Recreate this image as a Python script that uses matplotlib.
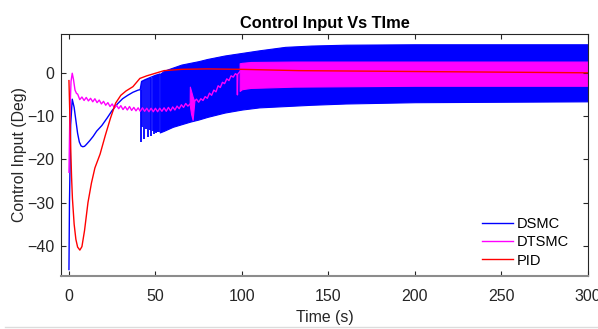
import matplotlib
matplotlib.use('Agg')
import matplotlib.pyplot as plt
from matplotlib.lines import Line2D

plt.rcParams['font.family'] = ['Liberation Sans', 'DejaVu Sans']

# PID control input
t_pid = [0, 0.4, 1, 1.5, 2, 3, 4, 5, 6.3, 7.5, 9, 11, 13, 15, 18, 21, 24, 27, 30,
         33, 37, 41, 45, 50, 55, 65, 80, 100, 133, 200, 250, 300]
u_pid = [-1.8, -8, -17, -24, -29, -35, -38.5, -40.3, -41, -40.2, -36.5, -30, -25.5,
         -22, -18.8, -14.5, -10.5, -7, -5.2, -4.2, -3.2, -1.3, -0.7, -0.1, 0.5, 0.8,
         0.9, 0.8, 0.5, 0.3, 0.15, 0.0]

# DSMC before the chattering band
t_dsmc = [0, 0.3, 1, 1.9, 3, 4, 5, 6, 7, 8, 9, 10, 12, 14, 16, 19, 22, 25, 28, 31,
          34, 37, 40, 41.2, 42, 44, 47, 50, 52.5]
u_dsmc = [-45.5, -30, -12, -6.1, -8, -11, -14, -16, -16.9, -17.1, -17, -16.6, -15.7,
          -14.7, -13.5, -12.2, -10.5, -8.7, -7.2, -6, -5.2, -4.5, -4, -3.9, -2.0,
          -1.6, -1.1, -0.6, -0.3]
# DSMC first chattering spikes
t_spk = [41.4, 42.4, 43.5, 44.6, 45.8, 46.8, 47.7, 48.5, 49.3, 50.0, 50.6, 51.1, 51.6, 52.1]
spk_lo = [-15.9, -12.5, -15.3, -13.0, -14.9, -13.2, -14.5, -13.5, -14.2, -13.6,
          -13.9, -13.7, -13.7, -13.8]
spk_hi = [-3.9, -2.0, -1.7, -1.5, -1.4, -1.2, -1.1, -0.9, -0.8, -0.7, -0.6, -0.5,
          -0.4, -0.3]
# DSMC chattering envelope
t_band = [52.5, 55, 60, 65, 70, 75, 80, 90, 100, 110, 125, 140, 160, 200, 250, 300]
dsmc_hi = [-0.3, 0.5, 1.2, 1.9, 2.3, 2.7, 3.2, 4.0, 4.6, 5.2, 6.0, 6.3, 6.5, 6.6, 6.6, 6.6]
dsmc_lo = [-13.8, -13.4, -12.5, -11.9, -11.3, -10.8, -10.2, -9.2, -8.5, -8.0, -7.7,
           -7.4, -7.1, -6.8, -6.7, -6.6]

# DTSMC line (with its small ripple)
t_dtsmc = [0, 0.5, 1.2, 1.9, 2.6, 3.5, 4.4,
           5.0, 6.25, 7.5, 8.75, 10.0, 11.25, 12.5, 13.75, 15.0, 16.25, 17.5, 18.75,
           20.0, 21.25, 22.5, 23.75, 25.0, 26.25, 27.5, 28.75, 30.0, 31.25, 32.5,
           33.75, 35.0, 36.25, 37.5, 38.75, 40.0, 41.25, 42.5, 43.75, 45.0, 46.25,
           47.5, 48.75, 50.0, 51.25, 52.5, 53.75, 55.0, 56.25, 57.5, 58.75, 60.0,
           61.25, 62.5, 63.75, 65.0, 66.25, 67.5, 68.75, 69.8,
           72.5, 73.75, 75.0, 76.25, 77.5, 78.75, 80.0, 81.25, 82.5, 83.75, 85.0,
           86.25, 87.5, 88.75, 90.0, 91.25, 92.5, 93.75, 95.0, 96.25, 97.2, 97.4,
           97.6, 98.7]
u_dtsmc = [-23, -10, -2, -0.1, -1.5, -4, -4.8,
           -4.9, -6.2, -5.6, -6.4, -5.7, -6.5, -5.9, -6.7, -6.0, -6.9, -6.3, -7.2,
           -6.6, -7.5, -6.9, -7.8, -7.2, -8.1, -7.5, -8.3, -7.6, -8.5, -7.8,
           -8.6, -7.8, -8.7, -8.0, -8.8, -8.1, -8.9, -8.1, -8.9, -8.2, -9.0,
           -8.2, -9.0, -8.2, -9.0, -8.2, -8.9, -8.1, -8.9, -8.0, -8.8, -7.9,
           -8.6, -7.7, -8.3, -7.4, -8.0, -7.1, -7.7, -7.3,
           -6.6, -6.1, -6.8, -6.0, -6.4, -5.5, -5.9, -4.7, -5.2, -4.0, -4.4,
           -3.0, -3.4, -2.2, -2.5, -1.4, -1.8, -0.7, -1.0, -0.2, -0.5, -5.1,
           -0.3, 0.2]
# DTSMC burst near t = 70
t_burst = [69.8, 69.9, 70.6, 71.5, 72.5]
burst_hi = [-7.3, -3.2, -4.2, -5.5, -6.6]
burst_lo = [-7.3, -7.6, -9.5, -10.9, -6.6]
# DTSMC chattering envelope
t_band2 = [98.7, 100, 105, 130, 200, 300]
dtsmc_hi = [2.2, 2.3, 2.5, 2.6, 2.6, 2.6]
dtsmc_lo = [-4.2, -3.8, -3.5, -3.2, -3.0, -3.0]

x_ticks = [0, 50, 100, 150, 200, 250, 300]
y_ticks = [-40, -30, -20, -10, 0]

BLUE, MAG, RED = '#0000FF', '#FF00FF', '#FF0000'
dark = '#262626'

fig = plt.figure(figsize=(5.98, 3.29), dpi=100)
ax = fig.add_axes([0.102, 0.161, 0.881, 0.736])

ax.plot(t_dsmc, u_dsmc, color=BLUE, lw=1.0, label='DSMC')
ax.vlines(t_spk, spk_lo, spk_hi, color=BLUE, lw=1.3)
ax.fill_between(t_band, dsmc_lo, dsmc_hi, color=BLUE, lw=0.8, edgecolor=BLUE)

ax.plot(t_dtsmc, u_dtsmc, color=MAG, lw=1.0, label='DTSMC')
ax.fill_between(t_burst, burst_lo, burst_hi, color=MAG, lw=0.8, edgecolor=MAG)
ax.fill_between(t_band2, dtsmc_lo, dtsmc_hi, color=MAG, lw=0.8, edgecolor=MAG)

ax.plot(t_pid, u_pid, color=RED, lw=1.0, label='PID')

ax.set_xlim(-4.6, 300)
ax.set_ylim(-47, 9)
ax.set_xticks(x_ticks)
ax.set_yticks(y_ticks)
ax.tick_params(direction='in', top=True, right=True, length=3.6, width=0.8,
               labelsize=11.5, colors=dark, pad=4.5)
ax.tick_params(axis='x', pad=9)
for s in ['left', 'top', 'right']:
    ax.spines[s].set_color(dark)
    ax.spines[s].set_linewidth(0.8)
ax.spines['bottom'].set_color('#8c8c8c')
ax.spines['bottom'].set_linewidth(1.5)

ax.set_title('Control Input Vs TIme', fontsize=11.8, fontweight='bold', pad=4, color='black')
ax.set_xlabel('Time (s)', fontsize=11.4, labelpad=5, color=dark)
ax.set_ylabel('Control Input (Deg)', fontsize=11.4, labelpad=0.5, color=dark)

ax.legend(loc='lower left', bbox_to_anchor=(0.799, 0.035), frameon=False,
          fontsize=10.5, handlelength=2.1, handletextpad=0.3, labelspacing=0.3,
          borderpad=0, borderaxespad=0)

fig.add_artist(Line2D([0.008, 1.0], [0.005, 0.005], color='#dcdcdc', lw=1.0,
                      transform=fig.transFigure))

fig.savefig('out.png', dpi=100)
